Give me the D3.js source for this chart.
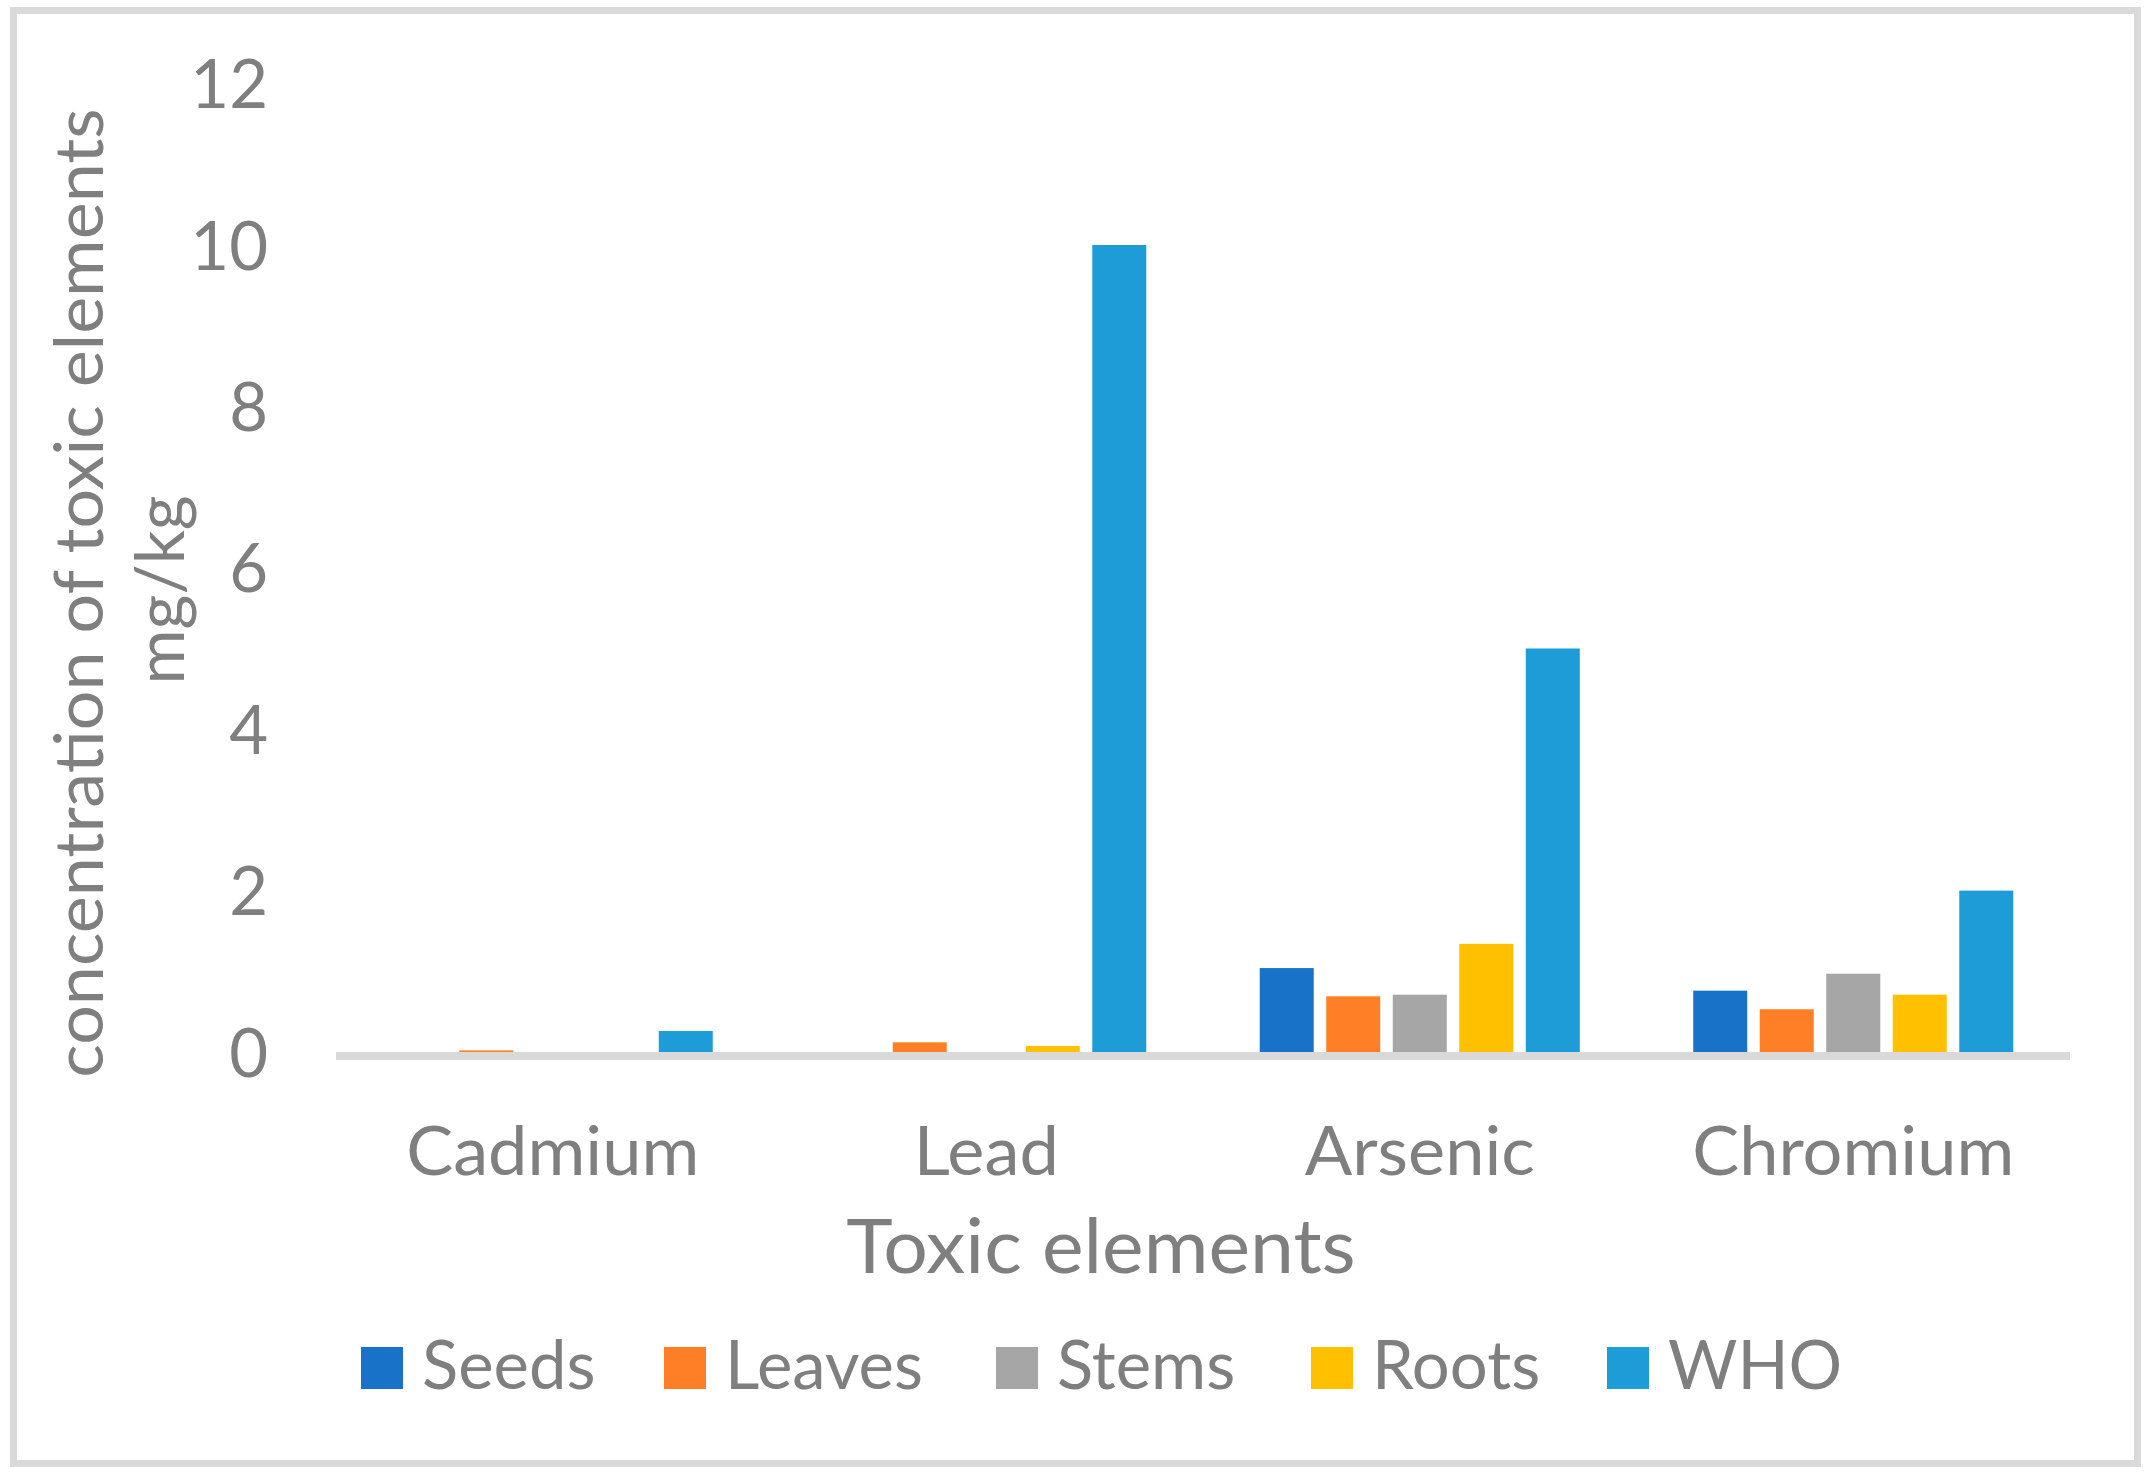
<!DOCTYPE html>
<html>
<head>
<meta charset="utf-8">
<script src="https://cdn.jsdelivr.net/npm/d3@7"></script>
<style>
  html, body { margin: 0; padding: 0; background: #ffffff; }
  svg { display: block; }
  text { font-family: Lato, "Open Sans", sans-serif; fill: #7f7f7f; }
</style>
</head>
<body>
<svg id="chart" width="2152" height="1482"></svg>
<script>
const categories = ["Cadmium", "Lead", "Arsenic", "Chromium"];
const seriesNames = ["Seeds", "Leaves", "Stems", "Roots", "WHO"];
const seeds  = [0,    0,     1.04, 0.76];
const leaves = [0.02, 0.12,  0.69, 0.53];
const stems  = [0,    0,     0.71, 0.97];
const roots  = [0,    0.075, 1.34, 0.71];
const who    = [0.26, 10,    5,    2];
const yTicks = [0, 2, 4, 6, 8, 10, 12];
const yTitleLines = ["concentration of toxic elements", "mg/kg"];
const xTitle = "Toxic elements";

const seriesValues = [seeds, leaves, stems, roots, who];
const colors = ["#1873C8", "#FF7F27", "#A6A6A6", "#FFC000", "#1E9CD8"];

const svg = d3.select("#chart");
const plot = { left: 336, right: 2070, top: 83.6, bottom: 1052 };

// stretch a text element horizontally by a factor
function widen(sel, k) {
  sel.each(function () {
    const len = this.getComputedTextLength();
    d3.select(this).attr("textLength", len * k).attr("lengthAdjust", "spacingAndGlyphs");
  });
}

// outer border
svg.append("rect")
  .attr("x", 13.5).attr("y", 10.5)
  .attr("width", 2124).attr("height", 1453)
  .attr("fill", "#ffffff")
  .attr("stroke", "#d9d9d9").attr("stroke-width", 7);

const x0 = d3.scaleBand().domain(categories).range([plot.left, plot.right]).paddingInner(0).paddingOuter(0);
const x1 = d3.scaleBand().domain(seriesNames).range([0, x0.bandwidth()]).paddingInner(0.188).paddingOuter(0.853);
const y = d3.scaleLinear().domain([0, 12]).range([plot.bottom, plot.top]);

// bars
const rows = [];
categories.forEach((c, i) => {
  seriesNames.forEach((s, j) => {
    rows.push({ cat: c, series: s, value: seriesValues[j][i], color: colors[j] });
  });
});
svg.append("g").selectAll("rect").data(rows.filter(d => d.value > 0)).join("rect")
  .attr("x", d => x0(d.cat) + x1(d.series))
  .attr("y", d => y(d.value))
  .attr("width", x1.bandwidth())
  .attr("height", d => y(0) - y(d.value))
  .attr("fill", d => d.color);

// category axis line
svg.append("rect")
  .attr("x", plot.left).attr("y", y(0))
  .attr("width", plot.right - plot.left).attr("height", 8)
  .attr("fill", "#d9d9d9");

// y axis tick labels
const yAxis = d3.axisLeft(y).tickValues(yTicks).tickSize(0).tickPadding(0).tickFormat(d3.format("d"));
const gy = svg.append("g").attr("transform", `translate(268,0)`).call(yAxis);
gy.select(".domain").remove();
gy.selectAll("text")
  .attr("font-size", 67).attr("fill", "#7f7f7f").attr("dy", "0.358em")
  .style("font-family", "Lato, sans-serif");

// x axis category labels
const xAxis = d3.axisBottom(x0).tickSize(0).tickPadding(0);
const gx = svg.append("g").attr("transform", `translate(0,1175)`).call(xAxis);
gx.select(".domain").remove();
gx.selectAll("text")
  .attr("font-size", 67).attr("fill", "#7f7f7f").attr("dy", 0).attr("y", 0)
  .style("font-family", "Lato, sans-serif");
widen(gx.selectAll("text"), 1.05);

// x title
svg.append("text")
  .attr("x", 1101).attr("y", 1273)
  .attr("text-anchor", "middle")
  .attr("font-size", 75)
  .text(xTitle)
  .call(widen, 1.05);

// y title (two lines, rotated)
const yTitleX = [103, 184];
const yTitleY = [593, 590];
const yTitleK = [1.045, 1.0];
yTitleLines.forEach((t, i) => {
  svg.append("text")
    .attr("transform", `translate(${yTitleX[i]},${yTitleY[i]}) rotate(-90)`)
    .attr("text-anchor", "middle")
    .attr("font-size", 67)
    .text(t)
    .call(widen, yTitleK[i]);
});

// legend
const legendSwatchX = [361, 664, 996, 1311, 1607];
const lg = svg.append("g");
seriesNames.forEach((s, j) => {
  lg.append("rect")
    .attr("x", legendSwatchX[j]).attr("y", 1347)
    .attr("width", 42).attr("height", 42)
    .attr("fill", colors[j]);
  lg.append("text")
    .attr("x", legendSwatchX[j] + 61).attr("y", 1389)
    .attr("font-size", 67)
    .text(s);
});
</script>
</body>
</html>
